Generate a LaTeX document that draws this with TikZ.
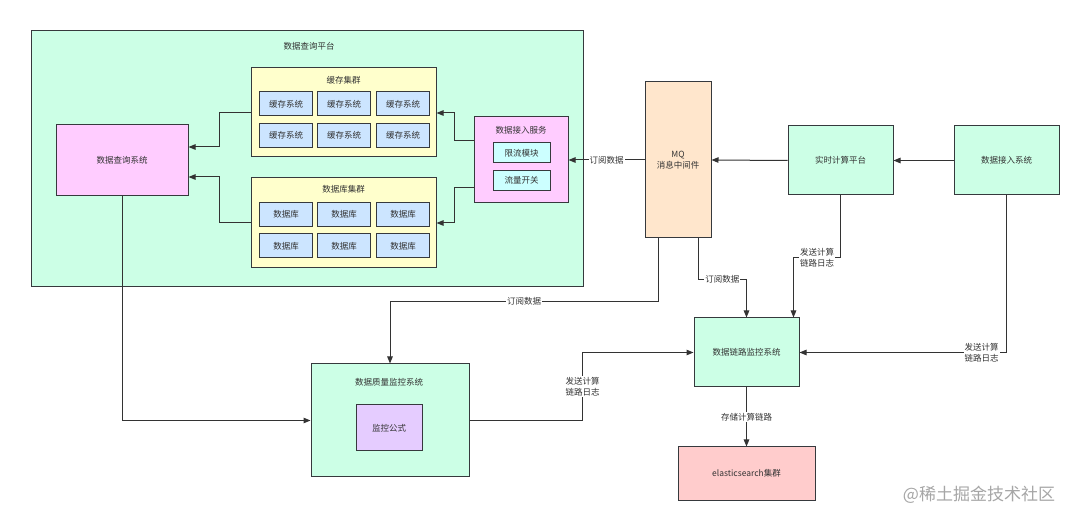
\documentclass[tikz,border=0pt]{standalone}
\usepackage{fontspec}
\setmainfont{Noto Sans CJK SC}
\usetikzlibrary{arrows.meta}
\definecolor{mint}{HTML}{CCFFE6}
\definecolor{pinkf}{HTML}{FFCCFF}
\definecolor{yel}{HTML}{FFFFCC}
\definecolor{cellb}{HTML}{CCE5FF}
\definecolor{cyanf}{HTML}{CCFFFF}
\definecolor{peach}{HTML}{FFE6CC}
\definecolor{lav}{HTML}{E5CCFF}
\definecolor{rosef}{HTML}{FFCCCC}
\definecolor{bd}{HTML}{36393D}
\definecolor{ln}{HTML}{333333}
\definecolor{tx}{HTML}{333333}
\newcommand{\fs}{\fontsize{8.5}{11}\selectfont}
\begin{document}
\begin{tikzpicture}[x=1pt,y=-1pt,
  box/.style={draw=bd, line width=1pt, rectangle, inner sep=0pt, font=\fs, text=tx, align=center},
  cell/.style={box, fill=cellb, minimum width=53pt, minimum height=24pt},
  sub/.style={box, fill=cyanf, minimum width=57pt, minimum height=20pt},
  ttl/.style={font=\fs, text=tx, inner sep=0pt},
  lbl/.style={font=\fs, text=tx, fill=white, inner sep=1pt, align=center},
  arr/.style={draw=ln, line width=1pt, -{Triangle[length=7pt,width=5.5pt]}},
  ln/.style={draw=ln, line width=1pt}]
\useasboundingbox (0,0) rectangle (1080,521);
\fill[white] (0,0) rectangle (1080,521);

% platform
\node[box, fill=mint, minimum width=552pt, minimum height=256pt] (platform) at (307,159) {};
\node[ttl] (platformT) at (309,46) {数据查询平台};

\node[box, fill=pinkf, minimum width=132pt, minimum height=71pt] (query) at (122,160.5) {数据查询系统};

% cache cluster
\node[box, fill=yel, minimum width=185pt, minimum height=89pt] (cache) at (343.5,112.5) {};
\node[ttl] (cacheT) at (343.5,80) {缓存集群};
\node[cell] (c11) at (286,104) {缓存系统};
\node[cell] (c12) at (344,104) {缓存系统};
\node[cell] (c13) at (403,104) {缓存系统};
\node[cell] (c21) at (286,135.5) {缓存系统};
\node[cell] (c22) at (344,135.5) {缓存系统};
\node[cell] (c23) at (403,135.5) {缓存系统};

% db cluster
\node[box, fill=yel, minimum width=185pt, minimum height=90pt] (db) at (343.5,223) {};
\node[ttl] (dbT) at (343.5,189) {数据库集群};
\node[cell] (d11) at (286,214.5) {数据库};
\node[cell] (d12) at (344,214.5) {数据库};
\node[cell] (d13) at (403,214.5) {数据库};
\node[cell] (d21) at (286,246) {数据库};
\node[cell] (d22) at (344,246) {数据库};
\node[cell] (d23) at (403,246) {数据库};

% access service
\node[box, fill=pinkf, minimum width=94pt, minimum height=86pt] (service) at (521,160) {};
\node[ttl] (serviceT) at (521,130.5) {数据接入服务};
\node[sub] (limit) at (521.5,153) {限流模块};
\node[sub] (switch) at (521.5,180.5) {流量开关};

% right side
\node[box, fill=peach, minimum width=66pt, minimum height=156pt] (mq) at (678,160) {MQ\\消息中间件};
\node[box, fill=mint, minimum width=105pt, minimum height=69pt] (rt) at (840.5,160.5) {实时计算平台};
\node[box, fill=mint, minimum width=105pt, minimum height=69pt] (ingest) at (1006.5,160.5) {数据接入系统};
\node[box, fill=mint, minimum width=105pt, minimum height=69pt] (link) at (746.5,352.5) {数据链路监控系统};

% quality
\node[box, fill=mint, minimum width=158pt, minimum height=113pt] (quality) at (390,420.5) {};
\node[ttl] (qualityT) at (389,382) {数据质量监控系统};
\node[box, fill=lav, minimum width=66pt, minimum height=46pt] (formula) at (389,428) {监控公式};

\node[box, fill=rosef, minimum width=137pt, minimum height=53pt] (es) at (746.5,473.5) {elasticsearch集群};

% connectors
\draw[arr] ([yshift=19pt]service.west) -- ++(-19,0) |- ([yshift=-0.5pt]cache.east);
\draw[arr] ([yshift=-28pt]service.west) -- ++(-19,0) |- (db.east);
\draw[arr] (cache.west) -- ++(-31,0) |- ([yshift=13.5pt]query.east);
\draw[arr] (db.west) -- ++(-31,0) |- ([yshift=-16.5pt]query.east);
\draw[arr] (query.south) |- (quality.west);

\draw[arr] (mq.west) -- node[lbl]{订阅数据} (service.east);
\draw[arr] (rt.west) -- (mq.east);
\draw[arr] (ingest.west) -- (rt.east);

\draw[arr] ([xshift=-20pt]mq.south) -- ++(0,63) -| node[lbl,pos=0.25]{订阅数据} (quality.north);
\draw[arr] ([xshift=20pt]mq.south) -- ++(0,41) -| node[lbl,pos=0.25]{订阅数据} (link.north);
\draw[arr] (rt.south) -- ++(0,62) -| node[lbl,pos=0.25]{发送计算\\链路日志} ([xshift=47pt]link.north);
\draw[arr] (ingest.south) |- node[lbl,pos=0.56]{发送计算\\链路日志} (link.east);
\draw[arr] (quality.east) -- ++(113,0) |- node[lbl,pos=0.25]{发送计算\\链路日志} (link.west);
\draw[arr] (link.south) -- node[lbl]{存储计算链路} (es.north);

% watermark
\node[font=\fontsize{17}{20}\selectfont, text=black!35, inner sep=0pt] (wm) at (979,495) {@稀土掘金技术社区};
\end{tikzpicture}
\end{document}
